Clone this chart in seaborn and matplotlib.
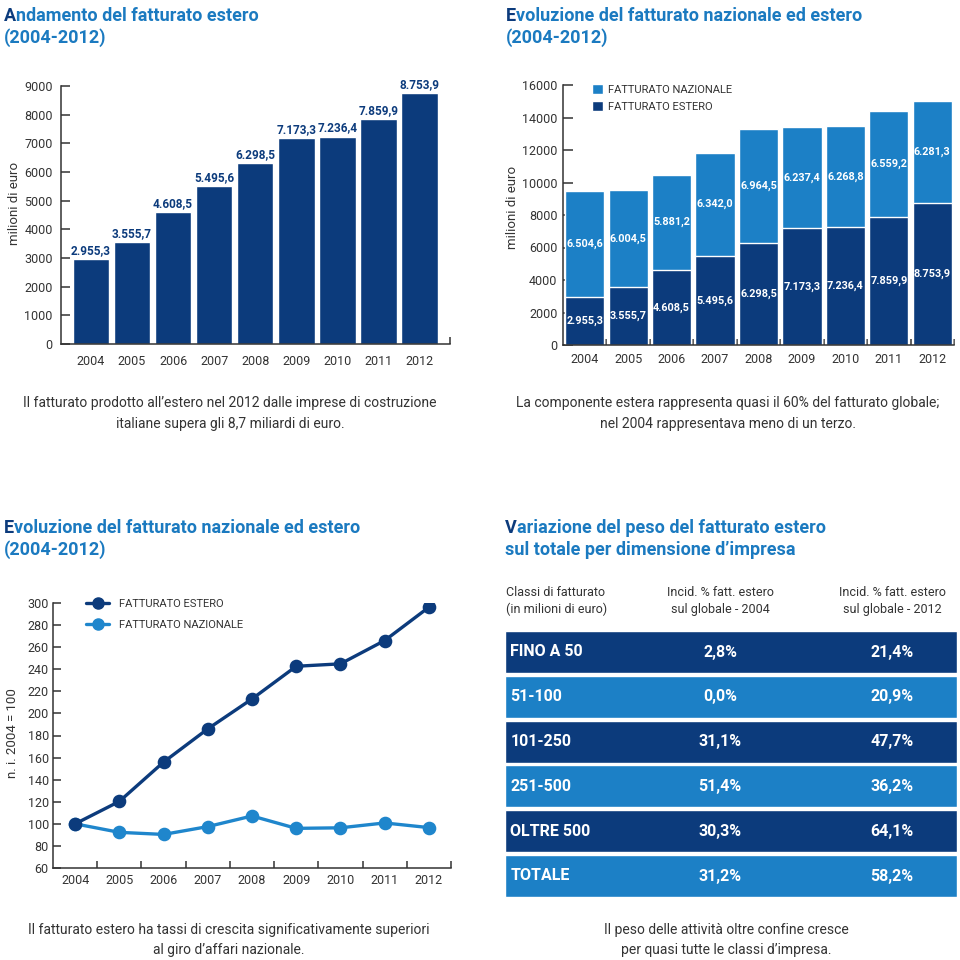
import matplotlib
matplotlib.use("Agg")
import matplotlib.pyplot as plt
from matplotlib.patches import Patch
from matplotlib.lines import Line2D
import seaborn as sns

# ---------------- data ----------------
years = ["2004", "2005", "2006", "2007", "2008", "2009", "2010", "2011", "2012"]
estero = [2955.3, 3555.7, 4608.5, 5495.6, 6298.5, 7173.3, 7236.4, 7859.9, 8753.9]
nazionale = [6504.6, 6004.5, 5881.2, 6342.0, 6964.5, 6237.4, 6268.8, 6559.2, 6281.3]
idx_estero = [100, 120.3, 155.9, 186.0, 213.1, 242.7, 244.9, 266.0, 296.2]
idx_nazionale = [100, 92.3, 90.4, 97.5, 107.1, 95.9, 96.4, 100.8, 96.6]
classes = ["FINO A 50", "51-100", "101-250", "251-500", "OLTRE 500", "TOTALE"]
share_2004 = ["2,8%", "0,0%", "31,1%", "51,4%", "30,3%", "31,2%"]
share_2012 = ["21,4%", "20,9%", "47,7%", "36,2%", "64,1%", "58,2%"]
yticks1 = [0, 1000, 2000, 3000, 4000, 5000, 6000, 7000, 8000, 9000]
yticks2 = [0, 2000, 4000, 6000, 8000, 10000, 12000, 14000, 16000]
yticks3 = [60, 80, 100, 120, 140, 160, 180, 200, 220, 240, 260, 280, 300]

# ---------------- style ----------------
sns.set_theme(style="white")
plt.rcParams["font.family"] = ["Roboto", "DejaVu Sans"]

DARK = "#0c3b7c"
LIGHT = "#1c80c6"
TITLE = "#1b7ac0"
TXT = "#333333"
W = 960.0
TICKFS = 9

fig = plt.figure(figsize=(9.6, 9.6), dpi=100)


def axrect(l, t, r, b):
    return [l / W, 1 - b / W, (r - l) / W, (b - t) / W]


def style_axes(ax, tick_len, ypad, xpad):
    sns.despine(ax=ax)
    for s in ("left", "bottom"):
        ax.spines[s].set_color(TXT)
        ax.spines[s].set_linewidth(1.1)
    ax.tick_params(axis="y", direction="in", length=tick_len, width=1.1,
                   color=TXT, pad=ypad, labelsize=TICKFS, labelcolor=TXT, left=True)
    ax.tick_params(axis="x", which="major", length=0, pad=xpad,
                   labelsize=TICKFS, labelcolor=TXT)
    ax.set_xlabel("")
    ax.set_ylabel("")
    ax.grid(False)


def it_fmt(v):
    return f"{v:,.1f}".replace(",", "X").replace(".", ",").replace("X", ".")


# ---------------- panel 1 ----------------
ax1 = fig.add_axes(axrect(61, 86, 450, 344))
sns.barplot(x=years, y=estero, ax=ax1, color=DARK, saturation=1, width=0.894)
ax1.set_xlim(-0.731, 8.748)
ax1.set_ylim(0, 9000)
ax1.set_yticks(yticks1)
style_axes(ax1, 6.5, 6, 8)
ax1.set_xticks([8.748], minor=True)
ax1.tick_params(axis="x", which="minor", direction="in", length=5, width=1.1, color=TXT, bottom=True)
for i, v in enumerate(estero):
    ax1.text(i, v + 70, it_fmt(v), ha="center", va="bottom", color=DARK,
             fontsize=8.5, fontweight="bold")

# ---------------- panel 2 ----------------
ax2 = fig.add_axes(axrect(563, 85, 954, 345))
totals = [e + n for e, n in zip(estero, nazionale)]
sns.barplot(x=years, y=totals, ax=ax2, color=LIGHT, saturation=1, width=0.905)
sns.barplot(x=years, y=estero, ax=ax2, color=DARK, saturation=1, width=0.905)
ax2.set_xlim(-0.5, 8.5)
ax2.set_ylim(0, 16000)
ax2.set_yticks(yticks2)
style_axes(ax2, 7, 4, 6)
ax2.set_xticks([0.5 + i for i in range(9)], minor=True)
ax2.tick_params(axis="x", which="minor", direction="in", length=4, width=1.1, color=TXT, bottom=True)
for i, (e, n) in enumerate(zip(estero, nazionale)):
    ax2.text(i, e / 2, it_fmt(e), ha="center", va="center", color="white",
             fontsize=7.8, fontweight="bold")
    ax2.text(i, e + n / 2, it_fmt(n), ha="center", va="center", color="white",
             fontsize=7.8, fontweight="bold")
ax2.legend(handles=[Patch(facecolor=LIGHT), Patch(facecolor=DARK)],
           labels=["FATTURATO NAZIONALE", "FATTURATO ESTERO"],
           loc="upper left", bbox_to_anchor=(592 / W, 1 - 84 / W),
           bbox_transform=fig.transFigure, frameon=False, fontsize=8,
           handlelength=1.0, handleheight=1.0, handletextpad=0.45,
           labelspacing=0.55, borderpad=0, borderaxespad=0, labelcolor=TXT)

# ---------------- panel 3 ----------------
ax3 = fig.add_axes(axrect(53, 603, 451, 868))
sns.pointplot(x=years, y=idx_nazionale, ax=ax3, color="#1f86cc",
              markers="o", markersize=8, linewidth=2.4)
sns.pointplot(x=years, y=idx_estero, ax=ax3, color=DARK,
              markers="o", markersize=8, linewidth=2.4)
ax3.set_xlim(-0.5, 8.5)
ax3.set_ylim(60, 300)
ax3.set_yticks(yticks3)
style_axes(ax3, 6, 3, 4)
ax3.set_xticks([0.5 + i for i in range(9)], minor=True)
ax3.tick_params(axis="x", which="minor", direction="in", length=5, width=1.1, color=TXT, bottom=True)
ax3.legend(handles=[Line2D([], [], color=DARK, marker="o", markersize=8, linewidth=2.4),
                    Line2D([], [], color="#1f86cc", marker="o", markersize=8, linewidth=2.4)],
           labels=["FATTURATO ESTERO", "FATTURATO NAZIONALE"],
           loc="upper left", bbox_to_anchor=(86 / W, 1 - 599 / W),
           bbox_transform=fig.transFigure, frameon=False, fontsize=8,
           handlelength=2.1, handletextpad=0.9, labelspacing=0.95,
           borderpad=0, borderaxespad=0, labelcolor=TXT)

# ---------------- panel 4 (table) ----------------
ax4 = fig.add_axes(axrect(505, 629.6, 957, 898.4))
row_colors = [DARK, LIGHT, DARK, LIGHT, DARK, LIGHT]
sns.barplot(x=[1.0] * len(classes), y=classes, hue=classes, palette=row_colors,
            legend=False, orient="h", ax=ax4, saturation=1, width=0.937)
ax4.set_xlim(0, 1)
ax4.set_ylim(5.5, -0.5)
ax4.axis("off")
for i, (c, a, b) in enumerate(zip(classes, share_2004, share_2012)):
    ax4.text(0.012, i, c, ha="left", va="center", color="white", fontsize=11.5, fontweight="bold")
    ax4.text(0.476, i, a, ha="center", va="center", color="white", fontsize=11.5, fontweight="bold")
    ax4.text(0.856, i, b, ha="center", va="center", color="white", fontsize=11.5, fontweight="bold")

# ---------------- overlay text ----------------
ov = fig.add_axes([0, 0, 1, 1])
ov.set_xlim(0, W)
ov.set_ylim(W, 0)
ov.axis("off")
ov.patch.set_visible(False)


def title(x, y1, y2, l1, l2):
    kw = dict(fontsize=13, fontweight="bold")
    t = ov.text(x, y1, l1[0], color=DARK, va="baseline", ha="left", **kw)
    ov.annotate(l1[1:], xy=(1, 0), xycoords=t, va="bottom", ha="left", color=TITLE, **kw)
    ov.text(x, y2, l2, color=TITLE, va="baseline", ha="left", **kw)


title(4, 21, 43, "Andamento del fatturato estero", "(2004-2012)")
title(506, 21, 43, "Evoluzione del fatturato nazionale ed estero", "(2004-2012)")
title(4, 533, 555, "Evoluzione del fatturato nazionale ed estero", "(2004-2012)")
title(505, 533, 555, "Variazione del peso del fatturato estero", "sul totale per dimensione d\u2019impresa")

cap = dict(ha="center", va="center", fontsize=10, color=TXT)
ov.text(230, 403, "Il fatturato prodotto all\u2019estero nel 2012 dalle imprese di costruzione", **cap)
ov.text(230, 424, "italiane supera gli 8,7 miliardi di euro.", **cap)
ov.text(728, 403, "La componente estera rappresenta quasi il 60% del fatturato globale;", **cap)
ov.text(728, 424, "nel 2004 rappresentava meno di un terzo.", **cap)
ov.text(229, 930, "Il fatturato estero ha tassi di crescita significativamente superiori", **cap)
ov.text(229, 950, "al giro d\u2019affari nazionale.", **cap)
ov.text(726, 930, "Il peso delle attivit\u00e0 oltre confine cresce", **cap)
ov.text(726, 950, "per quasi tutte le classi d\u2019impresa.", **cap)

ylab = dict(ha="center", va="center", rotation=90, fontsize=9.5, color=TXT)
ov.text(15, 203, "milioni di euro", **ylab)
ov.text(513, 207, "milioni di euro", **ylab)
ov.text(13, 733, "n. i. 2004 = 100", **ylab)

hdr = dict(va="center", fontsize=9, color=TXT)
ov.text(506, 593, "Classi di fatturato", ha="left", **hdr)
ov.text(506, 609, "(in milioni di euro)", ha="left", **hdr)
ov.text(720, 593, "Incid. % fatt. estero", ha="center", **hdr)
ov.text(720, 609, "sul globale - 2004", ha="center", **hdr)
ov.text(892, 593, "Incid. % fatt. estero", ha="center", **hdr)
ov.text(892, 609, "sul globale - 2012", ha="center", **hdr)

fig.savefig("out.png", dpi=100)
